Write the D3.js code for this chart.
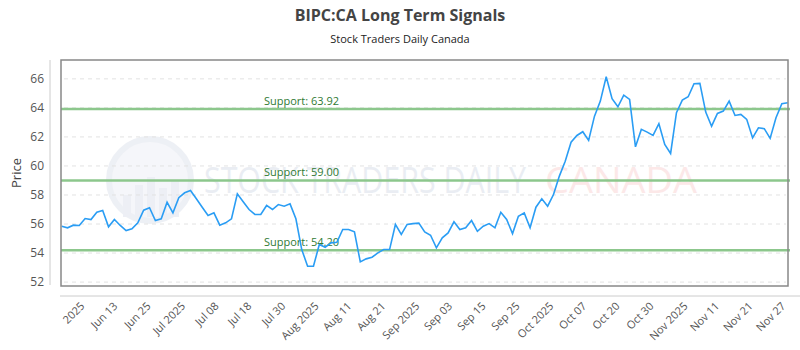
<!DOCTYPE html>
<html>
<head>
<meta charset="utf-8">
<script src="https://cdn.jsdelivr.net/npm/d3@7"></script>
<style>
    body { margin: 0; background: #fff; }
    #chart-area { width: 800px; height: 350px; }
    text { font-family: "Open Sans", sans-serif; }
</style>
</head>
<body>
<div id="chart-area"></div>
<script>
// closing prices, one per trading day
let prices = [
    55.85, 55.74, 55.92, 55.90, 56.38, 56.31, 56.81, 56.93, 55.81, 56.31,
    55.90, 55.55, 55.67, 56.08, 56.95, 57.12, 56.24, 56.36, 57.50, 56.77,
    57.81, 58.15, 58.31, 57.74, 57.16, 56.59, 56.77, 55.92, 56.08, 56.36,
    58.08, 57.53, 57.00, 56.66, 56.66, 57.28, 57.00, 57.34, 57.23, 57.39,
    56.36, 54.24, 53.09, 53.09, 54.59, 54.40, 54.70, 54.74, 55.62, 55.62,
    55.46, 53.39, 53.60, 53.71, 54.01, 54.24, 54.24, 55.97, 55.28, 55.97,
    56.03, 56.06, 55.46, 55.23, 54.36, 55.05, 55.39, 56.15, 55.62, 55.74,
    56.24, 55.50, 55.85, 56.03, 55.74, 56.81, 56.31, 55.34, 56.54, 56.77,
    55.74, 57.16, 57.74, 57.23, 58.03, 59.30, 60.33, 61.64, 62.10, 62.36,
    61.76, 63.43, 64.47, 66.15, 64.63, 64.08, 64.88, 64.59, 61.32, 62.52,
    62.33, 62.10, 62.91, 61.48, 60.86, 63.67, 64.54, 64.77, 65.67, 65.69,
    63.71, 62.74, 63.62, 63.78, 64.47, 63.48, 63.55, 63.21, 61.94, 62.63,
    62.57, 61.90, 63.32, 64.29, 64.36
];

// support levels
let supportLevels = [63.92, 59.00, 54.20];

// x tick labels and where they sit (in data-point index)
let tickLabels = ["2025", "Jun 13", "Jun 25", "Jul 2025", "Jul 08", "Jul 18", "Jul 30",
    "Aug 2025", "Aug 11", "Aug 21", "Sep 2025", "Sep 03", "Sep 15", "Sep 25",
    "Oct 2025", "Oct 07", "Oct 20", "Oct 30", "Nov 2025", "Nov 11", "Nov 21", "Nov 27"];
let tickIndex = [2.8, 8.4, 14.1, 20.0, 25.7, 31.3, 37.1, 42.8, 48.4, 54.2, 60.0,
    65.6, 71.3, 77.1, 82.9, 88.5, 94.2, 100.0, 105.8, 111.2, 116.9, 122.5];

let yTicks = [52, 54, 56, 58, 60, 62, 64, 66];


let margin = {top: 60, right: 10, bottom: 64, left: 61};
let width = 800 - margin.left - margin.right;
let height = 350 - margin.top - margin.bottom;

let svg = d3.select("#chart-area").append("svg")
    .attr("width", 800)
    .attr("height", 350);

// titles
svg.append("text")
    .attr("x", 400).attr("y", 21)
    .attr("text-anchor", "middle")
    .attr("font-size", 16).attr("font-weight", "bold")
    .attr("fill", "#444")
    .text("BIPC:CA Long Term Signals");

svg.append("text")
    .attr("x", 400).attr("y", 43)
    .attr("text-anchor", "middle")
    .attr("font-size", 11)
    .attr("fill", "#222")
    .text("Stock Traders Daily Canada");

let g = svg.append("g")
    .attr("transform", "translate(" + margin.left + "," + margin.top + ")");

// scales
let x = d3.scaleLinear()
    .domain([0, prices.length - 1])
    .range([0.7, width - 2.3]);

let y = d3.scaleLinear()
    .domain([51.73, 67.3])
    .range([height, 0]);

// watermark
let wm = g.append("g").attr("class", "watermark").attr("opacity", 0.55);
wm.append("circle")
    .attr("cx", 89).attr("cy", 120).attr("r", 41)
    .attr("fill", "#eef0f6").attr("stroke", "#e0e4ee").attr("stroke-width", 6);
[[62, 135, 8, 22], [74, 125, 8, 32], [86, 117, 8, 40], [98, 128, 8, 29], [110, 120, 8, 37]].forEach(b => {
    wm.append("rect").attr("x", b[0]).attr("y", b[1]).attr("width", b[2]).attr("height", b[3])
        .attr("fill", "#dfe3ee");
});
wm.append("text")
    .attr("x", 143).attr("y", 133)
    .attr("font-size", 37)
    .attr("textLength", 322).attr("lengthAdjust", "spacingAndGlyphs")
    .attr("fill", "#d9dfea")
    .text("STOCK TRADERS DAILY");
wm.append("text")
    .attr("x", 484).attr("y", 133)
    .attr("font-size", 37)
    .attr("textLength", 152).attr("lengthAdjust", "spacingAndGlyphs")
    .attr("fill", "#fbd6d6")
    .text("CANADA");

// dashed grid
g.append("g")
    .attr("class", "grid")
    .selectAll("line")
    .data(yTicks)
    .enter().append("line")
    .attr("x1", 3).attr("x2", width - 4)
    .attr("y1", d => y(d)).attr("y2", d => y(d))
    .attr("stroke", "#e2e2e2")
    .attr("stroke-dasharray", "4,4");

// support lines
g.selectAll(".support")
    .data(supportLevels)
    .enter().append("line")
    .attr("class", "support")
    .attr("x1", 0).attr("x2", width)
    .attr("y1", d => y(d)).attr("y2", d => y(d))
    .attr("stroke", "#8cc78c")
    .attr("stroke-width", 2.5);

g.selectAll(".support-label")
    .data(supportLevels)
    .enter().append("text")
    .attr("class", "support-label")
    .attr("x", 203)
    .attr("y", d => y(d) - 4)
    .attr("font-size", 11)
    .attr("fill", "#2f7a33")
    .text(d => "Support: " + d.toFixed(2));

// price line
let line = d3.line()
    .x((d, i) => x(i))
    .y(d => y(d));

g.append("path")
    .datum(prices)
    .attr("fill", "none")
    .attr("stroke", "#2a9df4")
    .attr("stroke-width", 1.6)
    .attr("d", line);

// plot frame
g.append("rect")
    .attr("x", 0).attr("y", 0)
    .attr("width", width - 2).attr("height", height)
    .attr("fill", "none")
    .attr("stroke", "#888")
    .attr("stroke-width", 1.5);

// y-axis
let yAxis = d3.axisLeft(y)
    .tickValues(yTicks)
    .tickSize(0)
    .tickPadding(0);

let yG = g.append("g")
    .attr("class", "y-axis axis")
    .attr("transform", "translate(-11,0)")
    .call(yAxis);
yG.select(".domain")
    .attr("d", "M0,0V" + (height - 1))
    .attr("stroke", "#ccc");
yG.selectAll("text")
    .attr("x", -6)
    .attr("font-size", 12)
    .attr("fill", "#555")
    .attr("font-family", "Open Sans, sans-serif");

svg.append("text")
    .attr("transform", "translate(21," + (margin.top + height / 2) + ") rotate(-90)")
    .attr("text-anchor", "middle")
    .attr("font-size", 13)
    .attr("fill", "#444")
    .text("Price");

// x-axis
let xAxis = d3.axisBottom(x)
    .tickValues(tickIndex)
    .tickFormat((d, i) => tickLabels[i])
    .tickSize(0)
    .tickPadding(0);

let xG = g.append("g")
    .attr("class", "x-axis axis")
    .attr("transform", "translate(0," + (height + 10) + ")")
    .call(xAxis);
xG.select(".domain")
    .attr("d", "M-1,0H" + (800 - margin.left))
    .attr("stroke", "#ccc");
xG.selectAll("text")
    .attr("font-size", 11)
    .attr("fill", "#555")
    .attr("font-family", "Open Sans, sans-serif")
    .attr("text-anchor", "end")
    .attr("dy", "0.35em")
    .attr("transform", "translate(4,8) rotate(-45)");
</script>
</body>
</html>
